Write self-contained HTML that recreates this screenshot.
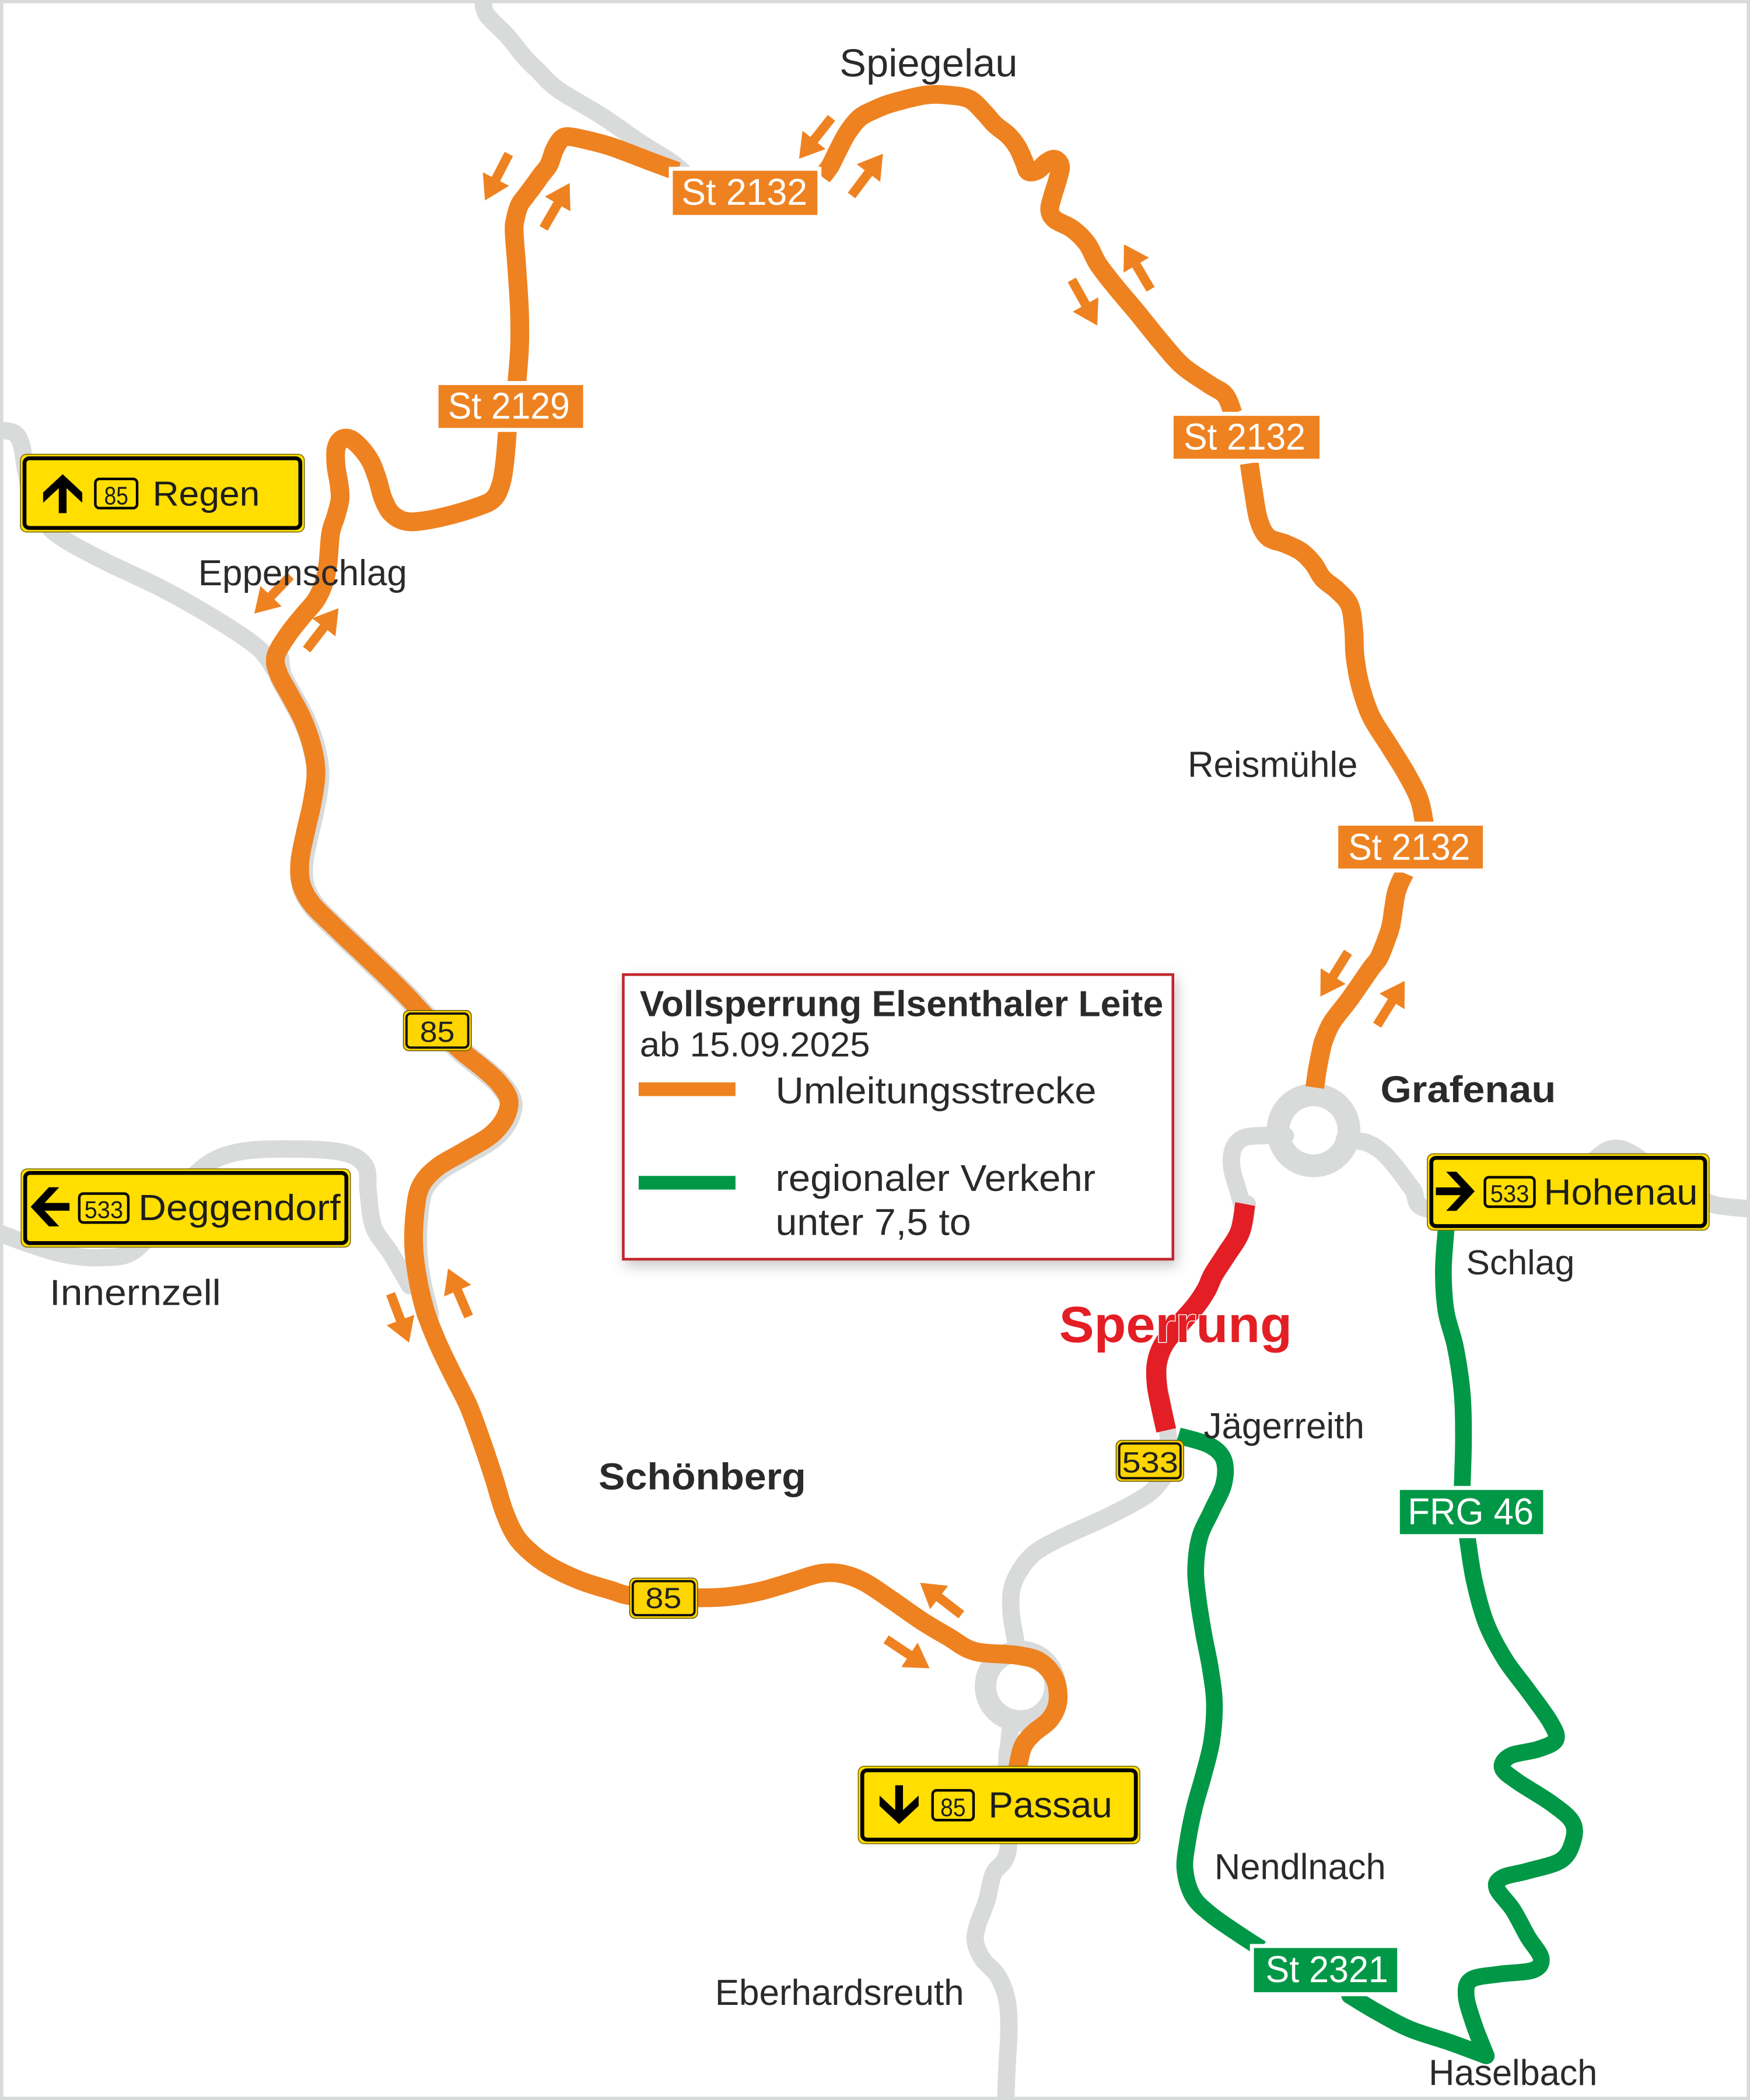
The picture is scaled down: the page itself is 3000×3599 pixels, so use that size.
<!DOCTYPE html>
<html>
<head>
<meta charset="utf-8">
<style>
html,body{margin:0;padding:0;background:#fff;}
svg{display:block;}
text{font-family:"Liberation Sans",Arial,sans-serif;}
</style>
</head>
<body>
<svg xmlns="http://www.w3.org/2000/svg" width="3000" height="3599" viewBox="0 0 1307 1568" preserveAspectRatio="none">
<defs>
<filter id="sh" x="-10%" y="-10%" width="125%" height="130%">
<feDropShadow dx="2" dy="4" stdDeviation="5" flood-color="#000" flood-opacity="0.22"/>
</filter>
</defs>
<rect x="0" y="0" width="1307" height="1568" fill="#fff"/>
<rect x="1.2" y="1.2" width="1304.6" height="1565.6" fill="none" stroke="#d9dada" stroke-width="2.5"/>

<!-- gray roads -->
<g fill="none" stroke="#d9dada" stroke-width="13" stroke-linejoin="round" stroke-linecap="round">
<polyline class="sm" points="360,-5 362,8 367,15 379,27 392,43 402,53 417,67 450,87 479,107 500,120 510,128"/>
<polyline class="sm" points="-5,321 10,323 16,332 19,350 25,375 35,392 50,404 80,420 122,440 164,464 193,484 205,500"/>
<polyline class="sm" transform="translate(1.5,1.5)" stroke-width="17" points="206,490 208,503 216,518 226,537 233,557 236,577 233,600 228,622 224,643 225,660 233,675 250,692 270,711 290,730 305,745 316,757 330,771 345,785 360,797 372,808 380,821 377,835 366,848 346,860 326,872 314,886 310,905 309,930 312,955 318,980"/>
<polyline class="sm" points="-5,919 25,930 50,937 75,939 100,934 125,905 150,873 179,860 225,858 258,861 273,871 275,890 279,916 292,936 306,960"/>
<polyline class="sm" points="960,848 940,848 928,850 921,858 920,872 925,890 929,905"/>
<polyline class="sm" transform="translate(1.5,0)" points="930,899 926,920 915,938 906,952 901,963 893,975 880,990 869,1004 864,1018 864,1034 867,1050 871,1072 872,1090"/>
<polyline class="sm" points="1004,851 1020,853 1032,860 1043,872 1055,888 1068,903 1140,900 1185,870 1203,858 1220,862 1250,885 1276,898 1290,901 1312,903"/>
<polyline class="sm" points="870,1102 857,1116 828,1132 791,1149 770,1162 757,1182 755,1202 758,1222 760,1233"/>
<polyline class="sm" points="755,1285 753.5,1302 752,1318 753,1380 742,1399 737,1419 730,1438 728.5,1450 734,1463 745,1475 752,1493 753.5,1516 752,1545 751,1575"/>
</g>
<circle cx="981" cy="844" r="26.5" fill="none" stroke="#d9dada" stroke-width="17"/>
<circle cx="762" cy="1259" r="26" fill="none" stroke="#d9dada" stroke-width="16"/>

<!-- orange route -->
<g fill="none" stroke="#ee8220" stroke-width="14" stroke-linejoin="round" stroke-linecap="butt">
<polyline class="sm" points="506,128 487,121 458,110 440,105 425,102 419,104 414,112 410,123 404,131 399,138 393,146 388,153 385,163 384,173 386,200 388,233 388,260 386,286"/>
<polyline class="sm" points="379,321 377,345 374,362 368,373 355,379 335,385 315,389 302,389 292,383 286,372 282,358 277,345 270,335 262,328 255,328 251,335 251,348 253,360 254,372 251,385 247,398 245,420 242,435 236,448 226,460 215,474 206,490 208,503 216,518 226,537 233,557 236,577 233,600 228,622 224,643 225,660 233,675 250,692 270,711 290,730 305,745 316,757 330,771 345,785 360,797 372,808 380,821 377,835 366,848 346,860 326,872 314,886 310,905 309,930 312,955 318,980 327,1003 338,1026 350,1050 360,1077 369,1104 376,1127 384,1145 394,1157 410,1169 433,1180 455,1187 475,1192 521,1193 545,1192 568,1188 592,1181 612,1175 628,1175 645,1181 665,1194 688,1210 708,1222 728,1233 760,1236 777,1241 788,1254 790,1271 784,1284 772,1294 764,1304 760,1320 758,1330"/>
<polyline class="sm" points="614,132 620,124 626,112 633,99 642,88 653,82 666,77 691,71 708,71 724,74 735,84 743,93 753,101 760,110 765,121 768,128 775,127 782,121 788,119 792,124 790,134 786,147 784,157 788,164 801,171 812,182 820,197 833,214 849,233 866,254 883,273 903,287 915,295 921,309"/>
<polyline class="sm" points="933,346 936,366 940,388 947,401 960,406 972,412 981,421 988,432 999,441 1008,452 1011,470 1012,490 1016,512 1024,535 1037,556 1050,577 1060,597 1064,616"/>
<polyline class="sm" points="1049,652 1043,666 1039,690 1036,700 1030,715 1024,723 1008,746 995,763 989,776 987,783 984,798 982,812"/>
</g>

<!-- green routes -->
<g fill="none" stroke="#009846" stroke-width="12.5" stroke-linejoin="round" stroke-linecap="butt">
<polyline class="sm" points="880,1072 903,1079 914,1090 914,1108 905,1128 896,1148 893,1172 895,1195 899,1220 904,1246 907,1272 905,1300 899,1325 892,1350 887,1375 885,1396 891,1416 905,1430 925,1444 942,1455"/>
<polyline class="sm" stroke-linecap="round" points="1008,1490 1028,1502 1053,1515 1083,1525 1110,1535"/>
<polyline class="sm" stroke-linecap="round" points="1110,1535 1101,1512 1095,1490 1099,1478 1120,1474 1145,1471 1151,1462 1141,1446 1130,1426 1118,1410 1122,1402 1141,1397 1166,1389 1175,1374 1174,1360 1158,1346 1133,1330 1122,1320 1128,1311 1149,1306 1162,1299 1158,1286 1141,1262 1124,1239 1110,1212 1101,1180 1096,1149"/>
<polyline class="sm" points="1080,918 1078,949 1080,979 1087,1006 1092,1040 1093,1075 1092,1111"/>
</g>

<!-- red closure -->
<polyline class="sm" fill="none" stroke="#e31e24" stroke-width="15" stroke-linejoin="round" points="930,899 926,920 915,938 906,952 901,963 893,975 880,990 869,1004 864,1018 864,1034 867,1050 871,1068"/>

<!-- route label boxes -->
<g stroke="#fff" stroke-width="3">
<rect x="501" y="126" width="111" height="36" fill="#ee8220"/>
<rect x="326" y="286" width="111" height="35" fill="#ee8220"/>
<rect x="875" y="309" width="112" height="35" fill="#ee8220"/>
<rect x="998" y="615" width="111" height="35" fill="#ee8220"/>
<rect x="1044" y="1111" width="110" height="36" fill="#009846"/>
<rect x="935" y="1453" width="110" height="36" fill="#009846"/>
</g>
<g fill="#fff" font-size="28">
<text x="509" y="153" textLength="94" lengthAdjust="spacingAndGlyphs">St 2132</text>
<text x="334.6" y="312.7" textLength="91" lengthAdjust="spacingAndGlyphs">St 2129</text>
<text x="884" y="335.6" textLength="91" lengthAdjust="spacingAndGlyphs">St 2132</text>
<text x="1007" y="642" textLength="91" lengthAdjust="spacingAndGlyphs">St 2132</text>
<text x="1051.4" y="1138.3" textLength="94" lengthAdjust="spacingAndGlyphs">FRG 46</text>
<text x="945.2" y="1480" textLength="91.6" lengthAdjust="spacingAndGlyphs">St 2321</text>
</g>

<!-- road shields -->
<g>
<rect x="301.3" y="754.5" width="50.7" height="30" rx="4" fill="#ffd500" stroke="#6b5a00" stroke-width="0.7"/>
<rect x="303.6" y="756.8" width="46.1" height="25.4" rx="3" fill="none" stroke="#111" stroke-width="1.7"/>
<text x="326.6" y="777.8" font-size="22" fill="#222" text-anchor="middle" textLength="26" lengthAdjust="spacingAndGlyphs">85</text>
<rect x="470.3" y="1178.3" width="50.7" height="30" rx="4" fill="#ffd500" stroke="#6b5a00" stroke-width="0.7"/>
<rect x="472.6" y="1180.6" width="46.1" height="25.4" rx="3" fill="none" stroke="#111" stroke-width="1.7"/>
<text x="495.5" y="1200.8" font-size="22" fill="#222" text-anchor="middle" textLength="27" lengthAdjust="spacingAndGlyphs">85</text>
<rect x="833.6" y="1075.5" width="50.4" height="30.5" rx="4" fill="#ffd500" stroke="#6b5a00" stroke-width="0.7"/>
<rect x="835.9" y="1077.8" width="45.8" height="25.9" rx="3" fill="none" stroke="#111" stroke-width="1.7"/>
<text x="859" y="1099.5" font-size="22" fill="#222" text-anchor="middle" textLength="42" lengthAdjust="spacingAndGlyphs">533</text>
</g>

<!-- direction signs -->
<g>
<rect x="15.3" y="339.2" width="212" height="58" rx="4.5" fill="#ffde00" stroke="#7a6a00" stroke-width="0.7"/>
<rect x="18.3" y="342.2" width="206" height="52" rx="3.5" fill="none" stroke="#000" stroke-width="2.9"/>
<path transform="translate(46.8,354.1)" d="M0,0 L14.6,13.6 L14.6,21.3 L2.9,10.4 L2.9,29 L-2.9,29 L-2.9,10.4 L-14.6,21.3 L-14.6,13.6 Z" fill="#000"/>
<rect x="71.2" y="357.6" width="31.2" height="21.8" rx="3" fill="none" stroke="#000" stroke-width="1.9"/>
<text x="86.8" y="376.6" font-size="19" fill="#1d1d1b" text-anchor="middle" textLength="18" lengthAdjust="spacingAndGlyphs">85</text>
<text x="114" y="377.6" font-size="26" fill="#1d1d1b" textLength="80" lengthAdjust="spacingAndGlyphs">Regen</text>

<rect x="15.8" y="872.8" width="245.9" height="58.4" rx="4.5" fill="#ffde00" stroke="#7a6a00" stroke-width="0.7"/>
<rect x="18.8" y="875.8" width="239.9" height="52.4" rx="3.5" fill="none" stroke="#000" stroke-width="2.9"/>
<path transform="translate(22.9,901.1) rotate(-90)" d="M0,0 L14.6,13.6 L14.6,21.3 L2.9,10.4 L2.9,29 L-2.9,29 L-2.9,10.4 L-14.6,21.3 L-14.6,13.6 Z" fill="#000"/>
<rect x="59.2" y="891.2" width="36.6" height="21.6" rx="3" fill="none" stroke="#000" stroke-width="1.9"/>
<text x="77.5" y="909.5" font-size="18" fill="#1d1d1b" text-anchor="middle" textLength="29" lengthAdjust="spacingAndGlyphs">533</text>
<text x="103.3" y="911.1" font-size="27" fill="#1d1d1b" textLength="151" lengthAdjust="spacingAndGlyphs">Deggendorf</text>

<rect x="1066" y="861.5" width="210.5" height="57" rx="4.5" fill="#ffde00" stroke="#7a6a00" stroke-width="0.7"/>
<rect x="1069" y="864.5" width="204.5" height="51" rx="3.5" fill="none" stroke="#000" stroke-width="2.9"/>
<path transform="translate(1101.4,889.5) rotate(90)" d="M0,0 L14.6,13.6 L14.6,21.3 L2.9,10.4 L2.9,29 L-2.9,29 L-2.9,10.4 L-14.6,21.3 L-14.6,13.6 Z" fill="#000"/>
<rect x="1109" y="879" width="37" height="22" rx="3" fill="none" stroke="#000" stroke-width="1.9"/>
<text x="1127.5" y="897.5" font-size="18" fill="#1d1d1b" text-anchor="middle" textLength="29" lengthAdjust="spacingAndGlyphs">533</text>
<text x="1153" y="899.5" font-size="27" fill="#1d1d1b" textLength="115" lengthAdjust="spacingAndGlyphs">Hohenau</text>

<rect x="641" y="1318.8" width="210.3" height="57.8" rx="4.5" fill="#ffde00" stroke="#7a6a00" stroke-width="0.7"/>
<rect x="644" y="1321.8" width="204.3" height="51.8" rx="3.5" fill="none" stroke="#000" stroke-width="2.9"/>
<path transform="translate(671.5,1362) rotate(180)" d="M0,0 L14.6,13.6 L14.6,21.3 L2.9,10.4 L2.9,29 L-2.9,29 L-2.9,10.4 L-14.6,21.3 L-14.6,13.6 Z" fill="#000"/>
<rect x="696.5" y="1336.8" width="30.6" height="22.2" rx="3" fill="none" stroke="#000" stroke-width="1.9"/>
<text x="711.8" y="1356" font-size="19" fill="#1d1d1b" text-anchor="middle" textLength="19" lengthAdjust="spacingAndGlyphs">85</text>
<text x="738.2" y="1357" font-size="27" fill="#1d1d1b" textLength="92.5" lengthAdjust="spacingAndGlyphs">Passau</text>
</g>

<!-- small direction arrows -->
<g fill="#ee8220">
<polygon transform="translate(380,115) rotate(117.2)" points="0,-3.5 21,-3.5 21,-11 39,0 21,11 21,3.5 0,3.5"/>
<polygon transform="translate(406,170.5) rotate(-60.1)" points="0,-3.5 21,-3.5 21,-11 39,0 21,11 21,3.5 0,3.5"/>
<polygon transform="translate(621,88) rotate(128.4)" points="0,-3.5 21,-3.5 21,-11 39,0 21,11 21,3.5 0,3.5"/>
<polygon transform="translate(636,146) rotate(-53.1)" points="0,-3.5 21,-3.5 21,-11 39,0 21,11 21,3.5 0,3.5"/>
<polygon transform="translate(800.5,209) rotate(60.8)" points="0,-3.5 21,-3.5 21,-11 39,0 21,11 21,3.5 0,3.5"/>
<polygon transform="translate(859.3,216) rotate(-120.6)" points="0,-3.5 21,-3.5 21,-11 39,0 21,11 21,3.5 0,3.5"/>
<polygon transform="translate(217,430) rotate(133.9)" points="0,-3.5 21,-3.5 21,-11 39,0 21,11 21,3.5 0,3.5"/>
<polygon transform="translate(229,485) rotate(-52.3)" points="0,-3.5 21,-3.5 21,-11 39,0 21,11 21,3.5 0,3.5"/>
<polygon transform="translate(1006.8,711) rotate(122)" points="0,-3.5 21,-3.5 21,-11 39,0 21,11 21,3.5 0,3.5"/>
<polygon transform="translate(1028.5,765.5) rotate(-58)" points="0,-3.5 21,-3.5 21,-11 39,0 21,11 21,3.5 0,3.5"/>
<polygon transform="translate(291.7,966) rotate(69.3)" points="0,-3.5 21,-3.5 21,-11 39,0 21,11 21,3.5 0,3.5"/>
<polygon transform="translate(350,983) rotate(-113.2)" points="0,-3.5 21,-3.5 21,-11 39,0 21,11 21,3.5 0,3.5"/>
<polygon transform="translate(718,1205.6) rotate(-142.3)" points="0,-3.5 21,-3.5 21,-11 39,0 21,11 21,3.5 0,3.5"/>
<polygon transform="translate(661.8,1224) rotate(33.7)" points="0,-3.5 21,-3.5 21,-11 39,0 21,11 21,3.5 0,3.5"/>
</g>

<!-- place names -->
<g fill="#2b2a29">
<text x="627" y="57" font-size="29" textLength="133" lengthAdjust="spacingAndGlyphs">Spiegelau</text>
<text x="148" y="437" font-size="27" textLength="156" lengthAdjust="spacingAndGlyphs">Eppenschlag</text>
<text x="887" y="580" font-size="27" textLength="127" lengthAdjust="spacingAndGlyphs">Reismühle</text>
<text x="1031" y="823" font-size="28" font-weight="bold" textLength="131" lengthAdjust="spacingAndGlyphs">Grafenau</text>
<text x="1095" y="951.5" font-size="26" textLength="81" lengthAdjust="spacingAndGlyphs">Schlag</text>
<text x="37" y="974.5" font-size="27" textLength="128" lengthAdjust="spacingAndGlyphs">Innernzell</text>
<text x="447" y="1112" font-size="28" font-weight="bold" textLength="155" lengthAdjust="spacingAndGlyphs">Schönberg</text>
<text x="899" y="1074" font-size="27" textLength="120" lengthAdjust="spacingAndGlyphs">Jägerreith</text>
<text x="907" y="1403" font-size="27" textLength="128" lengthAdjust="spacingAndGlyphs">Nendlnach</text>
<text x="534" y="1497" font-size="27" textLength="186" lengthAdjust="spacingAndGlyphs">Eberhardsreuth</text>
<text x="1067" y="1557" font-size="27" textLength="126" lengthAdjust="spacingAndGlyphs">Haselbach</text>
</g>
<text x="791" y="1002" font-size="38" font-weight="bold" fill="#e31e24" stroke="#fff" stroke-width="1.2" paint-order="stroke" textLength="174" lengthAdjust="spacingAndGlyphs">Sperrung</text>

<!-- legend -->
<g>
<rect x="465.5" y="727.7" width="410.5" height="212.5" fill="#fff" stroke="#c1272d" stroke-width="2" filter="url(#sh)"/>
<text x="477.8" y="758.7" font-size="27" font-weight="bold" fill="#2b2a29" textLength="391" lengthAdjust="spacingAndGlyphs">Vollsperrung Elsenthaler Leite</text>
<text x="477.8" y="788.7" font-size="26" fill="#2b2a29" textLength="172" lengthAdjust="spacingAndGlyphs">ab 15.09.2025</text>
<rect x="477" y="808.2" width="72.3" height="10.2" fill="#ee8220"/>
<text x="579.2" y="823.9" font-size="28" fill="#2b2a29" textLength="239.6" lengthAdjust="spacingAndGlyphs">Umleitungsstrecke</text>
<rect x="477" y="878" width="72.3" height="10.2" fill="#009846"/>
<text x="579.2" y="889.2" font-size="28" fill="#2b2a29" textLength="239" lengthAdjust="spacingAndGlyphs">regionaler Verkehr</text>
<text x="579.2" y="922.2" font-size="28" fill="#2b2a29" textLength="146" lengthAdjust="spacingAndGlyphs">unter 7,5 to</text>
</g>
</svg>
<script>
(function(){
var ns="http://www.w3.org/2000/svg";
var pls=document.querySelectorAll("polyline.sm");
for(var k=0;k<pls.length;k++){
 var pl=pls[k];
 var nums=pl.getAttribute("points").trim().split(/[\s,]+/).map(Number);
 var p=[];for(var i=0;i+1<nums.length;i+=2)p.push([nums[i],nums[i+1]]);
 if(p.length<3)continue;
 var d="M"+p[0][0]+","+p[0][1];
 for(var i=0;i<p.length-1;i++){
  var a=p[i>0?i-1:0],b=p[i],c=p[i+1],e=p[i+2<p.length?i+2:p.length-1];
  var c1x=b[0]+(c[0]-a[0])/6,c1y=b[1]+(c[1]-a[1])/6,c2x=c[0]-(e[0]-b[0])/6,c2y=c[1]-(e[1]-b[1])/6;
  d+=" C"+c1x.toFixed(2)+","+c1y.toFixed(2)+" "+c2x.toFixed(2)+","+c2y.toFixed(2)+" "+c[0]+","+c[1];
 }
 var path=document.createElementNS(ns,"path");
 for(var j=0;j<pl.attributes.length;j++){var at=pl.attributes[j];if(at.name!=="points"&&at.name!=="class")path.setAttribute(at.name,at.value);}
 path.setAttribute("d",d);
 pl.parentNode.replaceChild(path,pl);
}
})();
</script>
</body>
</html>
